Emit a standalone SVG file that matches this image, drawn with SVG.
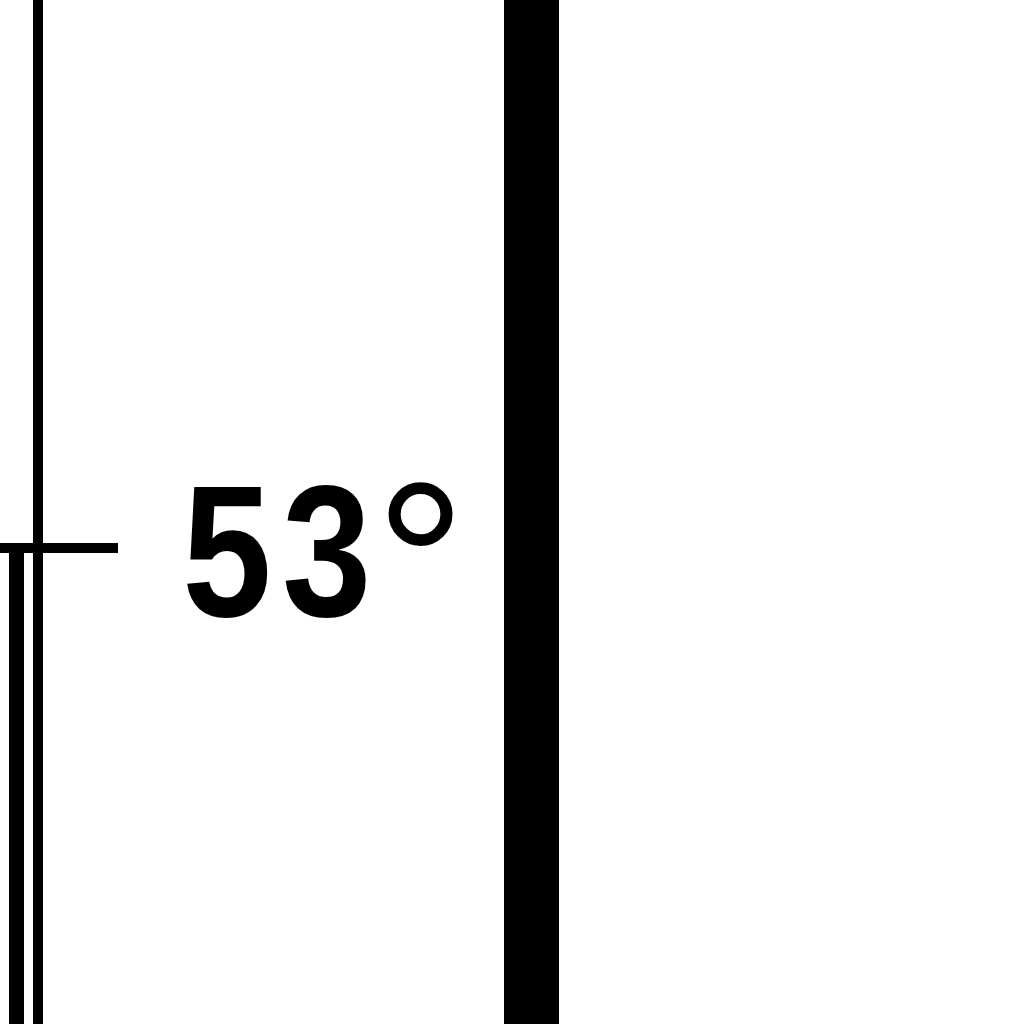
<svg xmlns="http://www.w3.org/2000/svg" width="1024" height="1024" viewBox="0 0 1024 1024">
<style>
.ln{fill:#000}
.lbl{font-family:"Liberation Sans",Arial,sans-serif;font-weight:bold;font-size:187px;fill:#000}
.deg{font-family:"Liberation Sans",Arial,sans-serif;font-weight:normal;font-size:228px;fill:#000}
</style>
<rect width="1024" height="1024" fill="#fff"/>
<g id="connectors">
<rect class="ln" x="33" y="0" width="10" height="1024"/>
<rect class="ln" x="9" y="548" width="15" height="476"/>
<rect class="ln" x="0" y="543" width="118" height="10"/>
</g>
<g id="bar">
<rect class="ln" x="504" y="0" width="55" height="1024"/>
</g>
<g id="label">
<text class="lbl" transform="scale(0.86,1)" y="616"><tspan x="212">5</tspan><tspan x="328">3</tspan></text>
<text class="deg" x="375" y="642">°</text>
</g>
</svg>
